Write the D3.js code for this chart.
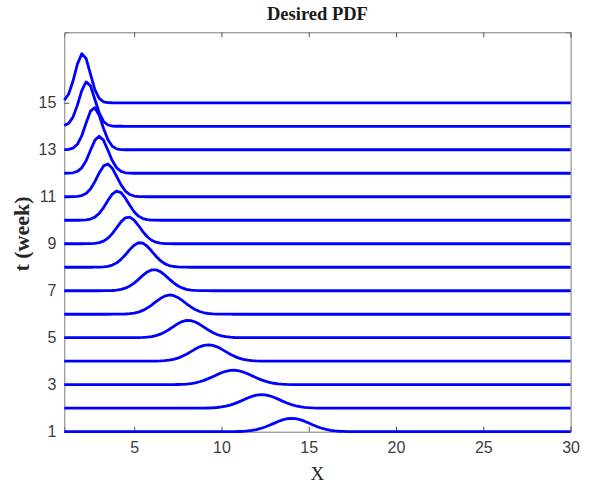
<!DOCTYPE html>
<html>
<head>
<meta charset="utf-8">
<script src="https://cdn.jsdelivr.net/npm/d3@7"></script>
<style>
  html, body { margin: 0; padding: 0; background: #fff; }
  svg { display: block; }
</style>
</head>
<body>
<svg id="chart" width="592" height="486"></svg>
<script>
// Week index of each curve (curve baseline sits at its week value)
const weeks = [1, 2, 3, 4, 5, 6, 7, 8, 9, 10, 11, 12, 13, 14, 15];
// Location of the density peak along X for each week
const peakX = [14.02, 12.3, 10.68, 9.25, 8.1, 7.05, 6.14, 5.34, 4.67, 4.04, 3.45, 3.0, 2.7, 2.3, 2.05];
// Peak height of each density, in week units above its baseline
const peakH = [0.57, 0.58, 0.62, 0.70, 0.74, 0.82, 0.90, 1.05, 1.14, 1.25, 1.40, 1.58, 1.80, 1.90, 2.10];
// Spread (standard deviation) of each density along X
const spread = [1.05, 1.05, 1.08, 0.96, 0.90, 0.86, 0.80, 0.72, 0.66, 0.61, 0.56, 0.51, 0.47, 0.45, 0.43];

const xTicks = [5, 10, 15, 20, 25, 30];
const yTicks = [1, 3, 5, 7, 9, 11, 13, 15];
const xDomain = [1, 30];
const yDomain = [1, 18];

const W = 592, H = 486;
const margin = { top: 32.3, right: 21.4, bottom: 54.3, left: 64.3 };
const iw = W - margin.left - margin.right;
const ih = H - margin.top - margin.bottom;

const svg = d3.select("#chart");
const g = svg.append("g").attr("transform", `translate(${margin.left},${margin.top})`);

const x = d3.scaleLinear().domain(xDomain).range([0, iw]);
const y = d3.scaleLinear().domain(yDomain).range([ih, 0]);

const axisColor = "#7d7d7d";
const labelColor = "#3c3c3c";

// Axes box with inward ticks on all four sides
const axisBottom = d3.axisBottom(x).tickValues(xTicks).tickSize(-5).tickPadding(10).tickFormat(d3.format("d"));
const axisTop = d3.axisTop(x).tickValues(xTicks).tickSize(-5).tickFormat("");
const axisLeft = d3.axisLeft(y).tickValues(yTicks).tickSize(-5).tickPadding(8).tickFormat(d3.format("d"));
const axisRight = d3.axisRight(y).tickValues(yTicks).tickSize(-5).tickFormat("");

function styleAxis(sel) {
  sel.select(".domain").attr("stroke", axisColor).attr("stroke-width", 1);
  sel.selectAll(".tick line").attr("stroke", "#555").attr("stroke-width", 1);
  sel.selectAll(".tick text")
    .attr("fill", labelColor)
    .style("font-family", "'Liberation Sans', Arial, sans-serif")
    .style("font-size", "16px");
}

g.append("g").attr("transform", `translate(0,${ih})`).call(axisBottom).call(styleAxis);
g.append("g").call(axisTop).call(styleAxis);
g.append("g").call(axisLeft).call(styleAxis);
g.append("g").attr("transform", `translate(${iw},0)`).call(axisRight).call(styleAxis);

// Sample grid along X for the density curves
const step = 0.25;
const xs = d3.range(xDomain[0], xDomain[1] + step / 2, step);

const line = d3.line()
  .x(d => x(d[0]))
  .y(d => y(d[1]));

const curves = weeks.map((t, i) => {
  const mu = peakX[i], h = peakH[i], s = spread[i];
  return xs.map(v => [v, t + h * Math.exp(-0.5 * ((v - mu) / s) ** 2)]);
});

g.append("g")
  .selectAll("path")
  .data(curves)
  .join("path")
  .attr("d", line)
  .attr("fill", "none")
  .attr("stroke", "#0000ff")
  .attr("stroke-width", 2.8)
  .attr("stroke-linejoin", "round")
  .attr("stroke-linecap", "butt");

// Title and axis labels
svg.append("text")
  .attr("x", margin.left + iw / 2)
  .attr("y", 20)
  .attr("text-anchor", "middle")
  .style("font-family", "'Liberation Serif', 'Times New Roman', serif")
  .style("font-weight", "bold")
  .style("font-size", "18.5px")
  .attr("fill", "#1a1a1a")
  .text("Desired PDF");

svg.append("text")
  .attr("x", margin.left + iw / 2)
  .attr("y", 480)
  .attr("text-anchor", "middle")
  .style("font-family", "'Liberation Serif', 'Times New Roman', serif")
  .style("font-size", "19px")
  .attr("fill", "#262626")
  .text("X");

svg.append("text")
  .attr("transform", `translate(29,234) rotate(-90)`)
  .attr("text-anchor", "middle")
  .style("font-family", "'Liberation Serif', 'Times New Roman', serif")
  .style("font-weight", "bold")
  .style("font-size", "22px")
  .attr("fill", "#262626")
  .text("t (week)");
</script>
</body>
</html>
